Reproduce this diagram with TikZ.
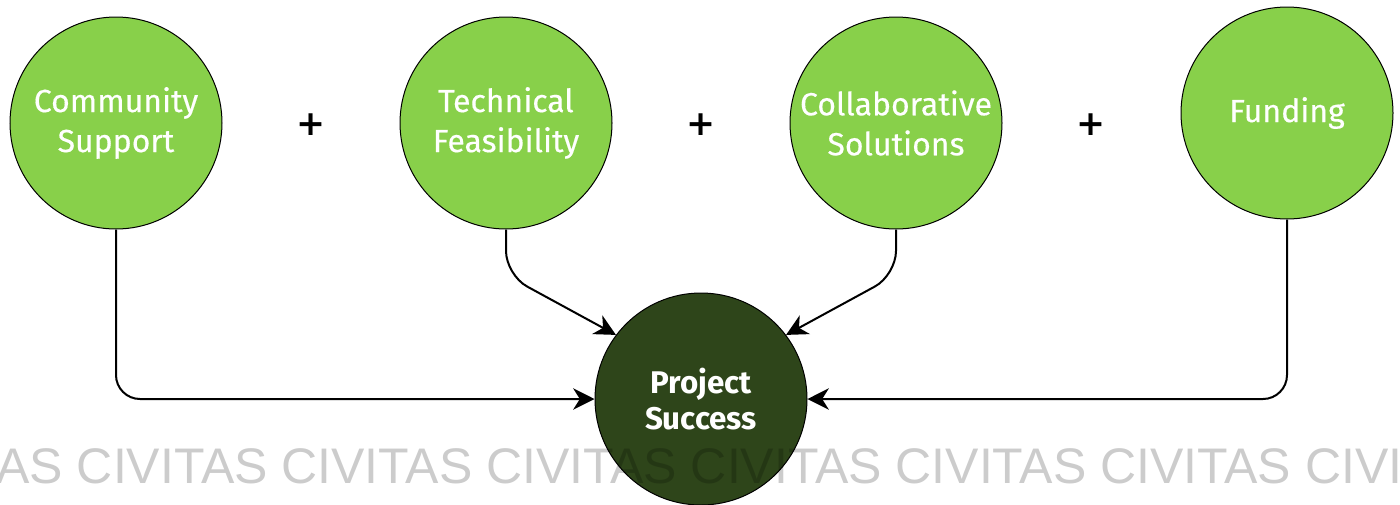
\documentclass[tikz,border=0pt]{standalone}
\usepackage{fontspec}
\setmainfont{Fira Sans}
\newfontfamily\labelfont{Fira Sans}[FakeBold=0.35]
\newfontfamily\markfont{Liberation Sans}
\newfontfamily\plusfont{DejaVu Sans}
\usetikzlibrary{arrows.meta}
\definecolor{factorgreen}{HTML}{88D04A}
\definecolor{goalgreen}{HTML}{2E451A}
\tikzset{
  factor/.style={circle, draw=black, line width=0.75pt, fill=factorgreen,
    minimum size=159pt, inner sep=0pt, align=center, text=white,
    font=\labelfont\fontsize{24}{30}\selectfont},
  goal/.style={factor, fill=goalgreen, font=\bfseries\fontsize{23.5}{27.5}\selectfont},
  plus/.style={font=\plusfont\bfseries\fontsize{26}{26}\selectfont},
  link/.style={line width=1.5pt, rounded corners=18pt,
    -{Stealth[length=16pt,width=16pt,inset=5pt]}}
}
\begin{document}
\begin{tikzpicture}[x=0.75pt,y=-0.75pt]
  \useasboundingbox (0,0) rectangle (1400,504);

  % contributing factors
  \node[factor] (cs) at (116,123) {Community\\Support};
  \node[factor] (tf) at (506,123) {Technical\\Feasibility};
  \node[factor] (co) at (896,123) {Collaborative\\Solutions};
  \node[factor] (fu) at (1287,113) {Funding};

  % plus signs between the factors
  \node[plus] (p1) at (311,125) {+};
  \node[plus] (p2) at (701,125) {+};
  \node[plus] (p3) at (1091,125) {+};

  % outcome
  \node[goal] (ps) at (701,399) {Project\\Success};

  % connectors
  \coordinate (tfbend) at (506,275);
  \coordinate (cobend) at (896,275);
  \draw[link] (cs.south) -- (cs.south |- ps.west) -- (ps.west);
  \draw[link] (fu.south) -- (fu.south |- ps.east) -- (ps.east);
  \draw[link] (tf.south) -- (tfbend) -- (ps.143);
  \draw[link] (co.south) -- (cobend) -- (ps.37);

  % repeated watermark along the bottom
  \begin{scope}
    \clip (0,0) rectangle (1400,504);
    \node[anchor=base west, inner sep=0pt, text=black, opacity=0.2,
      font=\markfont\fontsize{37.5}{40}\selectfont] (wm) at (-128,483)
      {CIVITAS CIVITAS CIVITAS CIVITAS CIVITAS CIVITAS CIVITAS CIVITAS};
  \end{scope}
\end{tikzpicture}
\end{document}
